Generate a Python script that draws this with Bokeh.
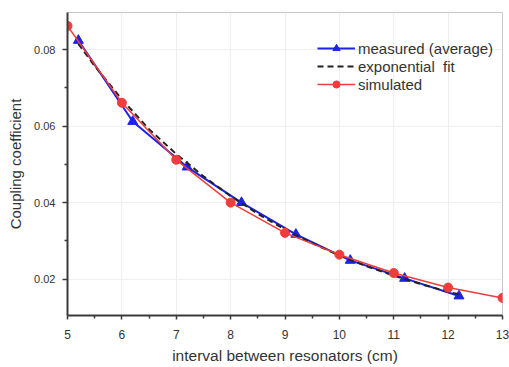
from bokeh.plotting import figure
from bokeh.models import Range1d, Legend, LegendItem, FixedTicker, NumeralTickFormatter
from bokeh.embed import file_html
from bokeh.resources import INLINE

# measured (average)
meas_x = [5.2, 6.2, 7.2, 8.2, 9.2, 10.2, 11.2, 12.2]
meas_y = [0.0824, 0.0612, 0.0493, 0.0400, 0.0317, 0.0249, 0.0202, 0.0156]

# exponential fit
fit_x = [5.2, 5.5, 6.0, 6.5, 7.0, 7.5, 8.0, 8.5, 9.0, 9.5, 10.0, 10.5, 11.0, 11.5, 12.0, 12.2]
fit_y = [0.0815, 0.0757, 0.0670, 0.0592, 0.0527, 0.0469, 0.0417, 0.0371, 0.0330, 0.0294,
         0.0262, 0.0234, 0.0209, 0.0187, 0.0167, 0.0160]

# simulated
sim_x = [5, 6, 7, 8, 9, 10, 11, 12, 13]
sim_y = [0.0862, 0.0661, 0.0512, 0.0400, 0.0321, 0.0264, 0.0216, 0.0178, 0.0151]

x_ticks = [5, 6, 7, 8, 9, 10, 11, 12, 13]
y_ticks = [0.02, 0.04, 0.06, 0.08]

FONT = "Liberation Sans"

p = figure(width=509, height=366, output_backend="svg", toolbar_location=None,
           x_range=Range1d(5, 13), y_range=Range1d(0.0105, 0.0897),
           min_border_left=67, min_border_right=7, min_border_top=12, min_border_bottom=51)

p.border_fill_color = "white"
p.outline_line_color = "#c8c8c8"
p.outline_line_width = 1
p.background_fill_color = "white"

p.xgrid.ticker = FixedTicker(ticks=x_ticks)
p.ygrid.ticker = FixedTicker(ticks=y_ticks)
for g in (p.xgrid, p.ygrid):
    g.grid_line_color = "#efefef"
    g.grid_line_width = 1

p.xaxis.ticker = FixedTicker(ticks=x_ticks, minor_ticks=[5.5 + i for i in range(8)])
p.yaxis.ticker = FixedTicker(ticks=y_ticks, minor_ticks=[0.03, 0.05, 0.07])
p.yaxis.formatter = NumeralTickFormatter(format="0.00")

for ax in (p.xaxis, p.yaxis):
    ax.axis_line_color = "#3a3a3a"
    ax.axis_line_width = 2
    ax.major_tick_line_color = "#3a3a3a"
    ax.minor_tick_line_color = "#3a3a3a"
    ax.major_tick_line_width = 1.5
    ax.minor_tick_line_width = 1.5
    ax.major_tick_in = 0
    ax.minor_tick_in = 0
    ax.major_label_text_font = FONT
    ax.major_label_text_color = "#333333"
    ax.axis_label_text_font = FONT
    ax.axis_label_text_font_style = "normal"
    ax.axis_label_text_color = "#333333"

p.xaxis.major_tick_out = 4
p.xaxis.minor_tick_out = 3
p.xaxis.major_label_text_font_size = "12px"
p.xaxis.major_label_standoff = 10
p.xaxis.axis_label = "interval between resonators (cm)"
p.xaxis.axis_label_text_font_size = "15.5px"
p.xaxis.axis_label_standoff = 5

p.yaxis.major_tick_out = 5
p.yaxis.minor_tick_out = 3
p.yaxis.major_label_text_font_size = "11px"
p.yaxis.major_label_standoff = 7
p.yaxis.axis_label = "Coupling coefficient"
p.yaxis.axis_label_text_font_size = "15px"
p.yaxis.axis_label_standoff = 7

BLUE = "#1c22e6"
RED = "#f03c3c"

l_meas = p.line(meas_x, meas_y, line_color=BLUE, line_width=2)
s_meas = p.scatter(meas_x, meas_y, marker="triangle", size=10, fill_color=BLUE, line_color=BLUE)

l_fit = p.line(fit_x, fit_y, line_color="#222222", line_width=2, line_dash="6 4")

l_sim = p.line(sim_x, sim_y, line_color=RED, line_width=1.5)
s_sim = p.scatter(sim_x, sim_y, marker="circle", size=9, fill_color=RED, line_color=RED)

legend = Legend(items=[
    LegendItem(label="measured (average)", renderers=[l_meas, s_meas]),
    LegendItem(label="exponential  fit", renderers=[l_fit]),
    LegendItem(label="simulated", renderers=[l_sim, s_sim]),
], location=(250, 222))
legend.padding = 0
legend.margin = 0
legend.spacing = 0
legend.glyph_width = 38
legend.glyph_height = 18
legend.label_height = 18
legend.label_standoff = 3
legend.label_text_font = FONT
legend.label_text_font_size = "15px"
legend.label_text_color = "#333333"
legend.border_line_alpha = 0
legend.background_fill_alpha = 0
p.add_layout(legend)

open("out.html", "w").write(file_html(p, INLINE))
